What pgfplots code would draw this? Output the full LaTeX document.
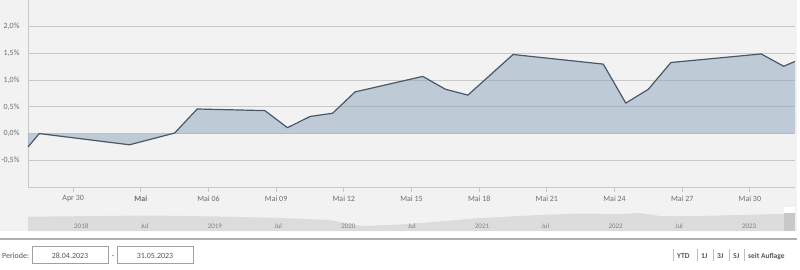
\documentclass[border=0pt]{standalone}
\usepackage{fontspec}
\setmainfont{Carlito}
\usepackage{pgfplots}
\pgfplotsset{compat=1.18}
\definecolor{bgc}{RGB}{242,242,242}
\definecolor{linec}{RGB}{72,88,106}
\definecolor{fillc}{RGB}{140,163,186}
\definecolor{gridc}{RGB}{200,200,200}
\definecolor{labc}{RGB}{110,110,110}
\definecolor{navc}{RGB}{220,220,220}
\definecolor{navlab}{RGB}{130,130,130}
\begin{document}
\begin{tikzpicture}[x=1bp,y=1bp]
\path[use as bounding box] (0,0) rectangle (800,269);
\fill[bgc] (0,38) rectangle (797,269);
\draw[line width=2bp, color={rgb,255:red,176;green,176;blue,176}] (0,30) -- (797,30);
% main chart
\begin{axis}[at={(28bp,82bp)}, anchor=south west, width=767bp, height=187bp, scale only axis,
  xmin=-2, xmax=32, ymin=-1, ymax=2.5,
  axis x line*=bottom, axis y line*=left,
  axis line style={gridc, line width=0.8bp},
  ytick={-0.5,0,0.5,1,1.5,2},
  yticklabels={-0{,}5\%,0{,}0\%,0{,}5\%,1{,}0\%,1{,}5\%,2{,}0\%},
  ymajorgrids, major grid style={gridc, line width=0.8bp},
  xtick={0,3,...,30},
  xticklabels={Apr 30,\textbf{Mai},Mai 06,Mai 09,Mai 12,Mai 15,Mai 18,Mai 21,Mai 24,Mai 27,Mai 30},
  tick align=outside, major tick length=5bp,
  ytick style={draw=none},
  xtick style={gridc, line width=0.8bp},
  tick label style={font=\fontsize{8}{9}\selectfont, text=labc},
  clip=false,
]
\addplot[draw=none, fill=fillc, fill opacity=0.5] coordinates {
(-2.0,-0.25) (-1.5,0.00) (2.5,-0.21) (4.5,0.01) (5.5,0.46) (8.5,0.43) (9.5,0.11) (10.5,0.32) (11.5,0.38) (12.5,0.78) (15.5,1.07) (16.5,0.83) (17.5,0.72) (19.5,1.48) (23.5,1.30) (24.5,0.57) (25.5,0.83) (26.5,1.33) (30.5,1.49) (31.5,1.26) (32.0,1.35)
} \closedcycle;
\addplot[draw=linec, line width=1.2bp, line join=round] coordinates {
(-2.0,-0.25) (-1.5,0.00) (2.5,-0.21) (4.5,0.01) (5.5,0.46) (8.5,0.43) (9.5,0.11) (10.5,0.32) (11.5,0.38) (12.5,0.78) (15.5,1.07) (16.5,0.83) (17.5,0.72) (19.5,1.48) (23.5,1.30) (24.5,0.57) (25.5,0.83) (26.5,1.33) (30.5,1.49) (31.5,1.26) (32.0,1.35)
};
\end{axis}
% navigator
\begin{axis}[at={(28bp,38bp)}, anchor=south west, width=767bp, height=20bp, scale only axis,
  xmin=2017.688, xmax=2023.43, ymin=0, ymax=20,
  axis on top,
  axis y line=none, axis x line*=bottom, axis line style={draw=none},
  ytick=\empty,
  xtick={2018,2018.5,2019,2019.5,2020,2020.5,2021,2021.5,2022,2022.5,2023},
  xticklabels={2018,Jul,2019,Jul,2020,Jul,2021,Jul,2022,Jul,2023},
  major tick length=0pt, xtick style={draw=none},
  xticklabel style={anchor=base west, xshift=1bp, yshift=3bp, font=\fontsize{7}{8}\selectfont, text=navlab},
  clip=false,
]
\addplot[draw=none, fill=navc] coordinates {
(2017.688,14.3) (2018.227,15) (2018.601,15.5) (2019.125,14.5) (2019.574,13) (2019.948,11) (2020.135,6) (2020.210,5) (2020.472,6.5) (2020.772,9.5) (2021.071,13) (2021.520,16) (2021.820,17.5) (2022.119,17) (2022.269,18) (2022.419,15) (2022.718,15) (2023.017,16) (2023.316,17) (2023.43,17.5)
} \closedcycle;
\fill[color={rgb,255:red,200;green,200;blue,200}] (axis cs:2023.345,0) rectangle (axis cs:2023.43,18);
\fill[white] (axis cs:2023.345,18) rectangle (axis cs:2023.43,24);
\end{axis}
\tikzset{lbl/.style={font=\fontsize{8}{9}\selectfont, text={rgb,255:red,85;green,85;blue,85}}}
\node[lbl, anchor=base west, inner sep=0] at (2,11) {Periode:};
\draw[color={rgb,255:red,160;green,160;blue,160}, fill=white, line width=0.6bp] (32,6) rectangle (108,23);
\node[lbl, anchor=base, inner sep=0] at (70,11) {28.04.2023};
\node[lbl, anchor=base, inner sep=0] at (113,11) {-};
\draw[color={rgb,255:red,160;green,160;blue,160}, fill=white, line width=0.6bp] (117,6) rectangle (193,23);
\node[lbl, anchor=base, inner sep=0] at (155,11) {31.05.2023};
\tikzset{btn/.style={font=\fontsize{7.5}{9}\selectfont\bfseries, text={rgb,255:red,85;green,85;blue,85}, anchor=base west, inner sep=0}}
\foreach \xx in {673,697,713,729,744} {\draw[color={rgb,255:red,190;green,190;blue,190}, line width=0.6bp] (\xx,8) -- (\xx,20);}
\node[btn] at (677,11) {YTD};
\node[btn] at (701,11) {1J};
\node[btn] at (717,11) {3J};
\node[btn] at (733,11) {5J};
\node[btn] at (748,11) {seit Auflage};
\end{tikzpicture}
\end{document}
